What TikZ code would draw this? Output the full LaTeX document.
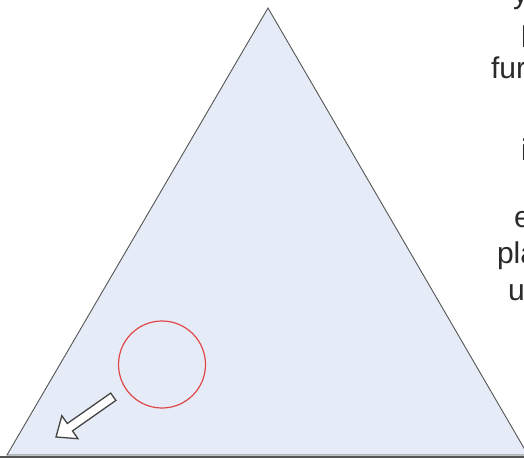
\documentclass[tikz,border=0pt]{standalone}
\usepackage{fontspec}
\setmainfont{Liberation Sans}
\definecolor{trifill}{HTML}{E6ECF7}
\definecolor{triline}{HTML}{555555}
\definecolor{circred}{HTML}{E04848}
\definecolor{txtcol}{HTML}{2A2A2A}
\tikzset{
  frag/.style={anchor=base west, inner sep=0pt, outer sep=0pt, text=txtcol, font=\fontsize{30}{36}\selectfont},
}
\begin{document}
\begin{tikzpicture}[x=1pt,y=-1pt]
\useasboundingbox (0,0) rectangle (524,458);
\clip (0,0) rectangle (524,458);
\fill[white] (0,0) rectangle (524,458);
% triangle
\coordinate (apex) at (268,8);
\coordinate (bl) at (7,455);
\coordinate (br) at (528,455);
\filldraw[fill=trifill, draw=triline, line width=0.9pt, line join=miter] (apex) -- (br) -- (bl) -- cycle;
\draw[triline, line width=2.4pt] (0,457) -- (524,457);
% red circle
\draw[circred, line width=1.2pt] (162,364.5) circle[radius=43.5];
% block arrow
\filldraw[fill=white, draw=triline!80!black, line width=1.3pt, line join=miter]
  (56,437) -- (77.95,438.7) -- (72.5,430.9) -- (115.9,400.4) -- (110.7,393.1)
  -- (67.3,423.5) -- (61.85,415.7) -- cycle;
% clipped text fragments on the right
\node[frag] (t1) at (513,3) {y};
\node[frag] (t2) at (521,47) {l};
\node[frag] (t3) at (491,78) {fur};
\node[frag] (t4) at (521,160) {i};
\node[frag] (t5) at (514,227) {e};
\node[frag] (t6) at (497,263) {pla};
\node[frag] (t7) at (508,300) {u};
\end{tikzpicture}
\end{document}
